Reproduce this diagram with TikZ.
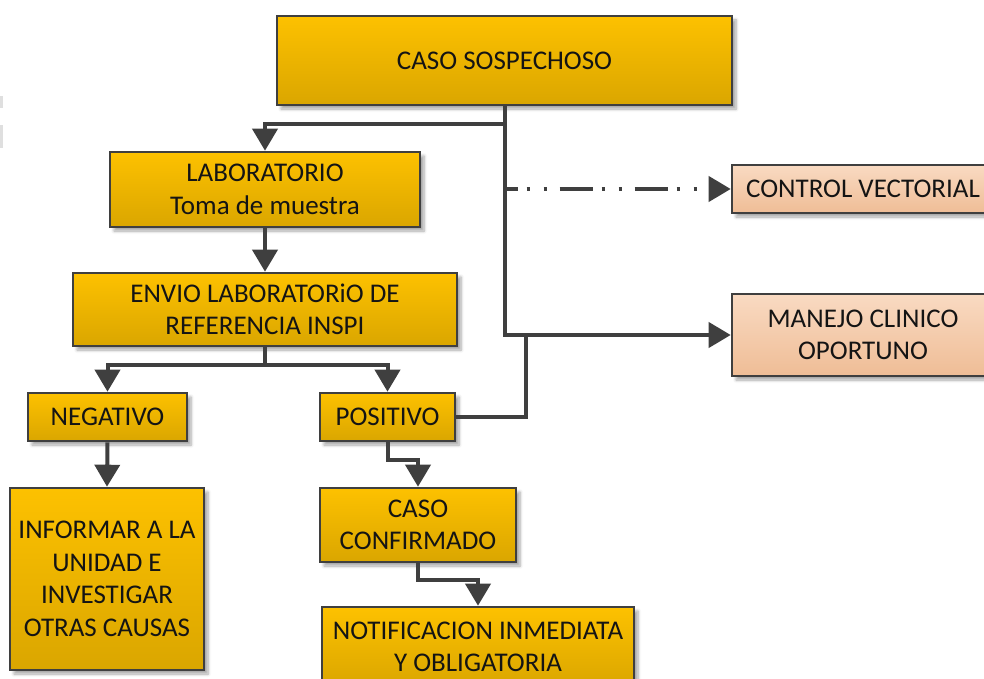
\documentclass[tikz,border=0pt]{standalone}
\usepackage{fontspec}
\setmainfont{Carlito}
\usetikzlibrary{arrows.meta,shadows.blur}

\definecolor{goldtop}{HTML}{FDC100}
\definecolor{goldbot}{HTML}{DAA600}
\definecolor{peachtop}{HTML}{F9DAC2}
\definecolor{peachbot}{HTML}{EFBD96}
\definecolor{edge}{HTML}{3F3F3F}
\definecolor{ink}{HTML}{141414}

\tikzset{
  box/.style={draw=edge, line width=2.6pt, rectangle, align=center,
    text=ink, font=\fontsize{27}{32.5}\selectfont, inner sep=0pt,
    blur shadow={shadow xshift=4pt, shadow yshift=-4pt,
      shadow blur steps=6, shadow blur radius=3pt, shadow opacity=35}},
  goldbox/.style={box, top color=goldtop, bottom color=goldbot},
  peachbox/.style={box, top color=peachtop, bottom color=peachbot},
  wire/.style={draw=edge, line width=4pt},
  arrow/.style={wire, -{Triangle[length=22pt,width=25pt]}},
  dashdot/.style={arrow,
    dash pattern=on 33pt off 9pt on 3pt off 14pt on 3pt off 13pt,
    dash phase=20pt},
}

\begin{document}
\begin{tikzpicture}[x=1pt,y=-1pt]
\useasboundingbox (0,0) rectangle (984,679);

% faint marks on the left margin
\fill[gray!25] (0,96) rectangle (2.5,108);
\fill[gray!25] (0,125) rectangle (2.5,148);

% boxes
\node[goldbox, minimum width=455pt, minimum height=89pt] (caso) at (504.5,60.5) {CASO SOSPECHOSO};
\node[goldbox, minimum width=310pt, minimum height=75pt] (lab) at (265,189.5) {LABORATORIO\\Toma de muestra};
\node[goldbox, minimum width=384pt, minimum height=73pt] (envio) at (265,309.5) {ENVIO LABORATORiO DE\\REFERENCIA INSPI};
\node[goldbox, minimum width=159pt, minimum height=48pt] (neg) at (107.5,417) {NEGATIVO};
\node[goldbox, minimum width=135pt, minimum height=48pt] (pos) at (387.5,417) {POSITIVO};
\node[goldbox, minimum width=194pt, minimum height=182pt] (inf) at (107,579) {INFORMAR A LA\\UNIDAD E\\INVESTIGAR\\OTRAS CAUSAS};
\node[goldbox, minimum width=196pt, minimum height=74pt] (conf) at (418,525) {CASO\\CONFIRMADO};
\node[goldbox, minimum width=312pt, minimum height=80pt] (notif) at (478,647) {NOTIFICACION INMEDIATA\\Y OBLIGATORIA};
\node[peachbox, minimum width=262pt, minimum height=48pt] (vect) at (863,189) {CONTROL VECTORIAL};
\node[peachbox, minimum width=262pt, minimum height=82pt] (clin) at (863,335) {MANEJO CLINICO\\OPORTUNO};

% junction points
\coordinate (jlab) at (504.5,124);
\coordinate (jpos) at (526,335);
\coordinate (jres) at (265,365);
\coordinate (jconf) at (387.5,460);
\coordinate (jnot) at (418,580);

% connectors
\draw[arrow] (caso.south) |- (clin.west);
\draw[arrow] (jlab) -| (lab.north);
\draw[dashdot] (caso.south |- vect.west) -- (vect.west);
\draw[wire] (pos.east) -| (jpos);
\draw[arrow] (lab.south) -- (envio.north);
\draw[wire] (envio.south) -- (jres);
\draw[arrow] (jres) -| (neg.north);
\draw[arrow] (jres) -| (pos.north);
\draw[arrow] (neg.south) -- (inf.north);
\draw[arrow] (pos.south) -- (jconf) -| (conf.north);
\draw[arrow] (conf.south) -- (jnot) -| (notif.north);
\end{tikzpicture}
\end{document}
